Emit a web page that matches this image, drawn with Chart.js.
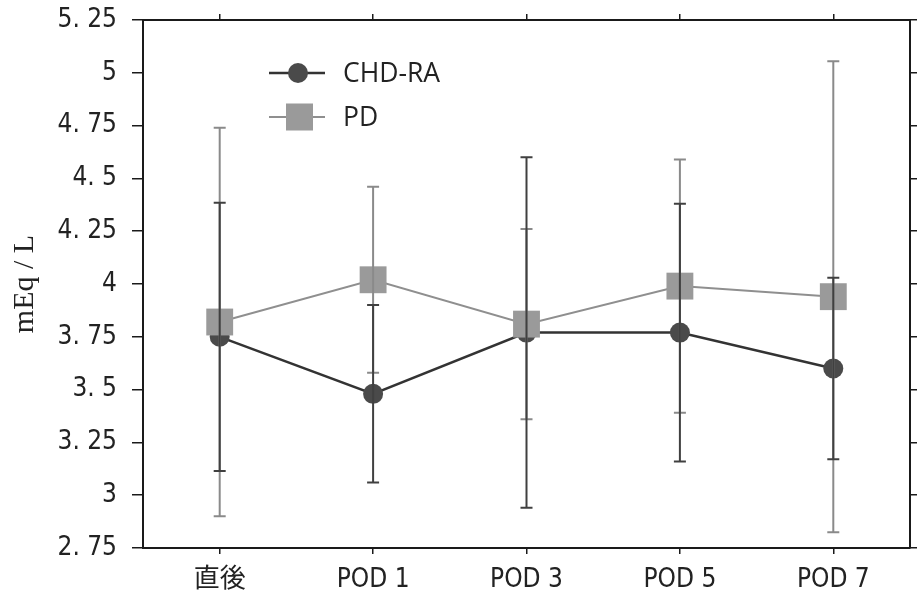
<!DOCTYPE html>
<html>
<head>
<meta charset="utf-8">
<script src="https://cdn.jsdelivr.net/npm/chart.js@4/dist/chart.umd.min.js"></script>
<style>
html,body{margin:0;padding:0;background:#fff;}
#wrap{width:917px;height:597px;position:relative;}
</style>
</head>
<body>
<div id="wrap"><canvas id="c" width="917" height="597"></canvas></div>
<script>
const categories = ['直後', 'POD 1', 'POD 3', 'POD 5', 'POD 7'];
const chdMean = [3.75, 3.48, 3.77, 3.77, 3.60];
const chdErr  = [0.635, 0.42, 0.83, 0.61, 0.43];
const pdMean  = [3.82, 4.02, 3.81, 3.99, 3.94];
const pdErr   = [0.92, 0.44, 0.45, 0.60, 1.115];
const yTickLabels = ['2. 75', '3', '3. 25', '3. 5', '3. 75', '4', '4. 25', '4. 5', '4. 75', '5', '5. 25'];
const seriesNames = ['CHD-RA', 'PD'];
const errs = [chdErr, pdErr];

const tickFont = "'DejaVu Sans Condensed', 'Noto Sans CJK JP', sans-serif";
const AXIS = '#1a1a1a';
const DARK = '#4a4a4a', DARK_LINE = '#333333';
const GRAY = '#9a9a9a', GRAY_LINE = '#8f8f8f';
const barColors = ['#404040', '#8a8a8a'];

function noPad(s) { s.paddingLeft = 0; s.paddingRight = 0; s.paddingTop = 0; s.paddingBottom = 0; }

const errorBars = {
  id: 'errorBars',
  afterDatasetsDraw(chart) {
    const ctx = chart.ctx, y = chart.scales.y;
    [1, 0].forEach(di => {
      const ds = chart.data.datasets[di];
      const meta = chart.getDatasetMeta(di);
      ctx.save();
      ctx.strokeStyle = barColors[di];
      ctx.lineWidth = 2;
      meta.data.forEach((pt, j) => {
        const m = ds.data[j], e = errs[di][j];
        const yt = y.getPixelForValue(m + e), yb = y.getPixelForValue(m - e);
        ctx.beginPath();
        ctx.moveTo(pt.x, yt); ctx.lineTo(pt.x, yb);
        ctx.moveTo(pt.x - 6, yt); ctx.lineTo(pt.x + 6, yt);
        ctx.moveTo(pt.x - 6, yb); ctx.lineTo(pt.x + 6, yb);
        ctx.stroke();
      });
      ctx.restore();
    });
  }
};

const legendPlugin = {
  id: 'innerLegend',
  afterDraw(chart) {
    const ctx = chart.ctx, a = chart.chartArea;
    const x0 = a.left + 126, rows = [a.top + 53, a.top + 97];
    chart.data.datasets.forEach((ds, i) => {
      const yy = rows[i];
      ctx.save();
      ctx.strokeStyle = ds.borderColor; ctx.lineWidth = ds.borderWidth;
      ctx.beginPath(); ctx.moveTo(x0, yy); ctx.lineTo(x0 + 56, yy); ctx.stroke();
      ctx.fillStyle = ds.pointBackgroundColor;
      if (i === 0) {
        ctx.beginPath(); ctx.arc(x0 + 29, yy, 10, 0, Math.PI * 2); ctx.fill();
      } else {
        ctx.fillRect(x0 + 17, yy - 13.5, 27, 27);
      }
      ctx.fillStyle = '#222';
      ctx.font = "26.5px 'Open Sans', sans-serif";
      ctx.textBaseline = 'middle';
      ctx.fillText(seriesNames[i], x0 + 74, yy + 1);
      ctx.restore();
    });
  }
};

new Chart(document.getElementById('c'), {
  type: 'line',
  data: {
    labels: categories,
    datasets: [
      {
        label: seriesNames[0], data: chdMean, order: 1,
        borderColor: DARK_LINE, borderWidth: 2.5,
        pointStyle: 'circle', pointRadius: 10, pointHoverRadius: 10,
        pointBackgroundColor: DARK, pointBorderColor: DARK, pointBorderWidth: 0
      },
      {
        label: seriesNames[1], data: pdMean, order: 0,
        borderColor: GRAY_LINE, borderWidth: 2,
        pointStyle: 'rect', pointRadius: 19, pointHoverRadius: 19,
        pointBackgroundColor: GRAY, pointBorderColor: GRAY, pointBorderWidth: 0
      }
    ]
  },
  options: {
    responsive: false,
    animation: false,
    events: [],
    layout: { padding: 0, autoPadding: false },
    plugins: { legend: { display: false }, tooltip: { enabled: false } },
    scales: {
      x: {
        type: 'category', position: 'bottom', offset: true,
        grid: { drawOnChartArea: false, drawTicks: true, tickLength: 6, color: AXIS, lineWidth: 1.5, offset: false },
        border: { display: true, color: AXIS, width: 2 },
        ticks: { color: '#222', font: { family: tickFont, size: 26 }, padding: 11, maxRotation: 0, autoSkip: false },
        afterFit(s) { s.height = 49; noPad(s); }
      },
      x2: {
        type: 'category', position: 'top', offset: true, labels: categories,
        grid: { drawOnChartArea: false, drawTicks: true, tickLength: 6, color: AXIS, lineWidth: 1.5, offset: false },
        border: { display: true, color: AXIS, width: 2 },
        ticks: { display: false },
        afterFit(s) { s.height = 20; noPad(s); }
      },
      y: {
        type: 'linear', position: 'left', min: 2.75, max: 5.25,
        ticks: { stepSize: 0.25, color: '#222', font: { family: tickFont, size: 26 }, padding: 15,
          callback: (v, i) => yTickLabels[i] },
        grid: { drawOnChartArea: false, drawTicks: true, tickLength: 11, color: AXIS, lineWidth: 1.5 },
        border: { display: true, color: AXIS, width: 2 },
        title: { display: true, text: 'mEq / L', color: '#222',
          font: { family: "'Liberation Serif', serif", size: 30 }, padding: { top: 7, bottom: 0 } },
        afterFit(s) { s.width = 143; noPad(s); }
      },
      y2: {
        type: 'linear', position: 'right', min: 2.75, max: 5.25,
        ticks: { display: false, stepSize: 0.25 },
        grid: { drawOnChartArea: false, drawTicks: true, tickLength: 7, color: AXIS, lineWidth: 1.5 },
        border: { display: true, color: AXIS, width: 2 },
        afterFit(s) { s.width = 7; noPad(s); }
      }
    }
  },
  plugins: [errorBars, legendPlugin]
});
</script>
</body>
</html>
